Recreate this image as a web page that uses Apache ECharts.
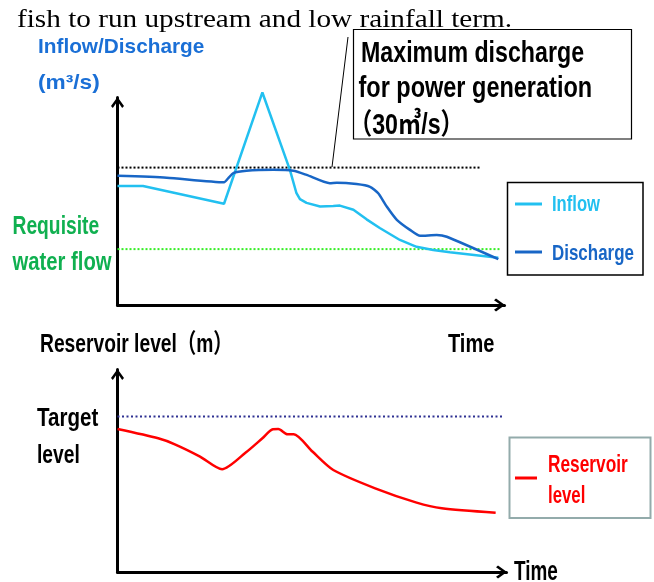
<!DOCTYPE html>
<html><head><meta charset="utf-8">
<script src="https://cdn.jsdelivr.net/npm/echarts@6/dist/echarts.min.js"></script>
<style>html,body{margin:0;padding:0;background:#fff}#c{width:654px;height:582px}</style>
</head><body><div id="c"></div>
<script>
// ---- Top panel: inflow / discharge (m3/s) over time (0-100) ----
const inflowTime = [0, 6.6, 27.5, 37.4, 44.5, 46.2, 47.1, 48.8, 52.3, 55.7, 57.4, 60.9, 64.3, 67.7, 72.9, 77.2, 81.5, 85.8, 98.3];
const inflowValue = [26.0, 26.0, 22.1, 46.4, 29.5, 24.4, 23.1, 22.3, 21.5, 21.6, 21.7, 20.8, 18.7, 16.8, 14.2, 12.7, 12.0, 11.5, 10.3];
const dischargeTime = [0, 12.7, 27.5, 28.6, 29.9, 33.3, 40.2, 45.4, 48.8, 54.8, 56.6, 61.7, 65.2, 67.3, 69.5, 72.1, 75.5, 78.1, 82.4, 85.0, 98.3];
const dischargeValue = [28.2, 27.8, 26.8, 27.7, 28.8, 29.3, 29.5, 29.3, 28.4, 26.6, 26.7, 26.4, 25.8, 24.4, 21.5, 18.6, 16.4, 15.1, 15.3, 14.9, 10.0];
const maxDischarge = 30;          // m3/s
const maxDischargeSpan = [0, 93.5];
const requisiteFlow = 12.2;
const requisiteSpan = [0, 98.7];

// ---- Bottom panel: reservoir level over time ----
const levelTime = [0, 10.5, 14.8, 21.3, 27.0, 33.1, 37.4, 40.1, 41.5, 43.9, 45.5, 50.3, 55.7, 66.5, 77.2, 83.7, 97.6];
const levelValue = [71.1, 66.5, 63.5, 57.4, 51.1, 59.4, 66.5, 71.0, 71.1, 68.5, 68.5, 59.9, 50.7, 41.6, 34.5, 31.7, 29.5];
const targetLevel = 77.3;
const targetSpan = [0, 99.5];

const pairs = (xs, ys) => xs.map((x, i) => [x, ys[i]]);
const flat = (v, span) => [[span[0], v], [span[1], v]];

const ARROW = 'path://M6.5,0 L13,9 L11.2,11 L6.5,4.2 L1.8,11 L0,9 Z';
const axisLine = {
  show: true, onZero: false,
  lineStyle: { color: '#000', width: 3 },
  symbol: ['none', ARROW], symbolSize: [13, 11], symbolOffset: [0, -5]
};
const bare = { axisTick: { show: false }, axisLabel: { show: false }, splitLine: { show: false }, axisLine: axisLine };

const SANS = '"Liberation Sans", "Noto Sans CJK JP", sans-serif';
function T(text, x, baseline, size, color, sx, family) {
  family = family || SANS;
  const k = family.indexOf('Serif') >= 0 ? 0.3375 : 0.3465;
  return {
    type: 'text', x: x, y: baseline - k * size, scaleX: sx, z: 100,
    style: { text: text, x: 0, y: 0, font: (family.indexOf('Serif') >= 0 ? '' : 'bold ') + size + 'px ' + family,
      fill: color, align: 'left', verticalAlign: 'middle' }
  };
}

const C_IN = '#22c0f0', C_DIS = '#1866c6', C_LBL = '#1a6fd6', C_GRN = '#10b050';

const chart = echarts.init(document.getElementById('c'), null, { renderer: 'canvas' });
chart.setOption({
  animation: false,
  backgroundColor: '#fff',
  grid: [
    { left: 117.5, top: 97.5, width: 387, height: 207.5 },
    { left: 117.5, top: 369.5, width: 389, height: 202.5 }
  ],
  xAxis: [
    Object.assign({ gridIndex: 0, type: 'value', min: 0, max: 99.9 }, bare),
    Object.assign({ gridIndex: 1, type: 'value', min: 0, max: 100.4 }, bare)
  ],
  yAxis: [
    Object.assign({ gridIndex: 0, type: 'value', min: 0, max: 45.3 }, bare),
    Object.assign({ gridIndex: 1, type: 'value', min: 0, max: 100.7 }, bare)
  ],
  series: [
    { name: 'Maximum discharge', type: 'line', xAxisIndex: 0, yAxisIndex: 0, data: flat(maxDischarge, maxDischargeSpan),
      showSymbol: false, lineStyle: { color: '#000', width: 2, type: [2, 2] } },
    { name: 'Requisite water flow', type: 'line', xAxisIndex: 0, yAxisIndex: 0, data: flat(requisiteFlow, requisiteSpan),
      showSymbol: false, lineStyle: { color: '#33ee22', width: 2, type: [2, 2] } },
    { name: 'Inflow', type: 'line', xAxisIndex: 0, yAxisIndex: 0, data: pairs(inflowTime, inflowValue),
      showSymbol: false, clip: false, smooth: false, lineStyle: { color: C_IN, width: 2.5 } },
    { name: 'Discharge', type: 'line', xAxisIndex: 0, yAxisIndex: 0, data: pairs(dischargeTime, dischargeValue),
      showSymbol: false, clip: false, smooth: 0.2, lineStyle: { color: C_DIS, width: 2.5 } },
    { name: 'Target level', type: 'line', xAxisIndex: 1, yAxisIndex: 1, data: flat(targetLevel, targetSpan),
      showSymbol: false, lineStyle: { color: '#2e3192', width: 2, type: [2, 2.5] } },
    { name: 'Reservoir level', type: 'line', xAxisIndex: 1, yAxisIndex: 1, data: pairs(levelTime, levelValue),
      showSymbol: false, clip: false, smooth: 0.25, lineStyle: { color: '#ff0000', width: 2.5 } }
  ],
  graphic: [
    T('fish to run upstream and low rainfall term.', 17, 29.3, 26, '#000', 1.124, '"Liberation Serif", "Times New Roman", serif'),
    T('Inflow/Discharge', 38, 54, 21, C_LBL, 0.99),
    T('(m³/s)', 38, 90, 21, C_LBL, 1.08),
    // annotation box
    { type: 'rect', z: 90, shape: { x: 353.5, y: 29.5, width: 278, height: 109.5 }, style: { fill: 'none', stroke: '#000', lineWidth: 1.2 } },
    { type: 'line', z: 90, shape: { x1: 348, y1: 37, x2: 332, y2: 167 }, style: { stroke: '#000', lineWidth: 1 } },
    T('Maximum discharge', 361, 64, 29, '#000', 0.80),
    T('for power generation', 358.5, 99.5, 29, '#000', 0.81),
    T('（30㎥/s）', 349, 136, 29, '#000', 0.80),
    T('Requisite', 12.5, 236, 25, C_GRN, 0.77),
    T('water flow', 12.5, 271.7, 25, C_GRN, 0.81),
    // top legend
    { type: 'rect', z: 90, shape: { x: 507.5, y: 182.5, width: 135.5, height: 92.5 }, style: { fill: '#fff', stroke: '#000', lineWidth: 1.5 } },
    { type: 'line', z: 95, shape: { x1: 515, y1: 204, x2: 542, y2: 204 }, style: { stroke: C_IN, lineWidth: 3 } },
    { type: 'line', z: 95, shape: { x1: 515, y1: 252, x2: 542, y2: 252 }, style: { stroke: C_DIS, lineWidth: 3 } },
    T('Inflow', 552, 213, 22, C_IN, 0.755),
    T('Discharge', 552, 262, 22, C_DIS, 0.77),
    // bottom panel labels
    T('Reservoir level（m）', 40, 354, 26, '#000', 0.74),
    T('Time', 448, 354, 26, '#000', 0.77),
    T('Target', 37, 428, 26, '#000', 0.79),
    T('level', 37, 465, 26, '#000', 0.74),
    T('Time', 514, 581.5, 27, '#000', 0.70),
    // bottom legend
    { type: 'rect', z: 90, shape: { x: 509.5, y: 437.5, width: 141, height: 80.5 }, style: { fill: '#fff', stroke: '#93abab', lineWidth: 2 } },
    { type: 'line', z: 95, shape: { x1: 515, y1: 478, x2: 537, y2: 478 }, style: { stroke: '#ff0000', lineWidth: 3 } },
    T('Reservoir', 548, 474, 24, '#ff0000', 0.72),
    T('level', 548, 505, 24, '#ff0000', 0.70)
  ]
});
</script></body></html>
